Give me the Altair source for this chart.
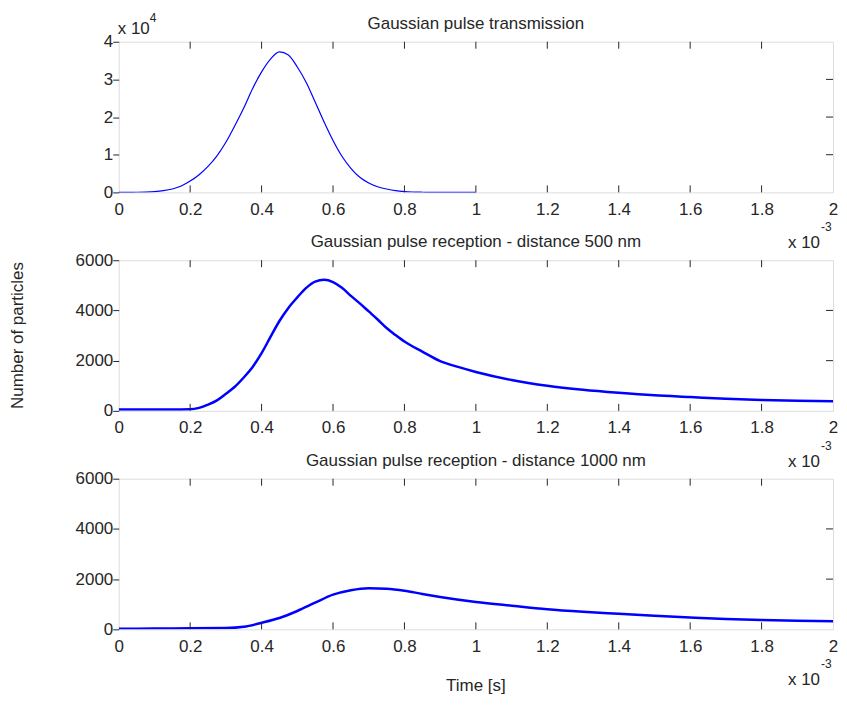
import altair as alt
import pandas as pd

# ---------------- data (time in ms, converted to seconds below) ----------------
tx_time_ms = [0.0, 0.025, 0.05, 0.075, 0.1, 0.125, 0.15, 0.175, 0.2, 0.225, 0.25, 0.275,
              0.3, 0.325, 0.35, 0.375, 0.4, 0.425, 0.45, 0.475, 0.5, 0.525, 0.55, 0.575,
              0.6, 0.625, 0.65, 0.675, 0.7, 0.725, 0.75, 0.775, 0.8, 0.825, 0.85, 0.875,
              0.9, 0.925, 0.95, 0.975, 1.0]
tx_particles = [0, 10, 30, 80, 200, 450, 900, 1700, 3000, 4700, 6900, 9700,
                13300, 17700, 22400, 27600, 32000, 35400, 37300, 36500, 33300, 29200, 24000, 18700,
                13800, 9600, 6400, 4000, 2500, 1500, 900, 450, 200, 90, 40, 15,
                5, 0, 0, 0, 0]

rx500_time_ms = [0.0, 0.05, 0.1, 0.15, 0.2, 0.225, 0.25, 0.275, 0.3, 0.325, 0.35, 0.375,
                 0.4, 0.425, 0.45, 0.475, 0.5, 0.525, 0.55, 0.575, 0.6, 0.625, 0.65, 0.675,
                 0.7, 0.725, 0.75, 0.775, 0.8, 0.85, 0.9, 0.95, 1.0, 1.1, 1.2, 1.3,
                 1.4, 1.5, 1.6, 1.7, 1.8, 1.9, 2.0]
rx500_particles = [50, 50, 50, 50, 60, 120, 250, 420, 680, 960, 1330, 1750,
                   2300, 2950, 3580, 4100, 4520, 4900, 5150, 5220, 5130, 4900, 4580, 4280,
                   3960, 3640, 3300, 3020, 2760, 2360, 1980, 1750, 1550, 1230, 1000, 840,
                   720, 620, 550, 480, 430, 400, 380]

rx1000_time_ms = [0.0, 0.1, 0.2, 0.3, 0.35, 0.4, 0.45, 0.5, 0.55, 0.6, 0.65, 0.7,
                  0.75, 0.8, 0.85, 0.9, 1.0, 1.1, 1.2, 1.3, 1.4, 1.5, 1.6, 1.7,
                  1.8, 1.9, 2.0]
rx1000_particles = [20, 30, 40, 50, 100, 260, 450, 730, 1060, 1380, 1560, 1640,
                    1620, 1540, 1410, 1290, 1090, 940, 800, 700, 620, 540, 470, 410,
                    370, 340, 320]

x_ticks_ms = [0, 0.2, 0.4, 0.6, 0.8, 1.0, 1.2, 1.4, 1.6, 1.8, 2.0]
y_ticks_tx = [0, 10000, 20000, 30000, 40000]
y_ticks_rx = [0, 2000, 4000, 6000]

titles = ["Gaussian pulse transmission",
          "Gaussian pulse reception - distance 500 nm",
          "Gaussian pulse reception - distance 1000 nm"]

# ---------------- styling ----------------
W, H = 716, 151
FONT = "Liberation Sans"
TXT = "#262626"
BLUE = "#0000ff"
FS = 17
TICK = 7

x_ticks = [v * 1e-3 for v in x_ticks_ms]
inner_x_ticks = x_ticks[1:-1]


def mk_df(tms, vals):
    return pd.DataFrame({"t": [v * 1e-3 for v in tms], "v": vals})


def text_layer(txt, x, y, size=FS, align="center", baseline="alphabetic", angle=0):
    props = dict(font=FONT, fontSize=size, color=TXT, align=align, baseline=baseline)
    if angle:
        props["angle"] = angle
    return alt.Chart(pd.DataFrame({"a": [0]})).mark_text(**props).encode(
        x=alt.value(x), y=alt.value(y), text=alt.value(txt))


def panel(df, ymax, yticks, title, ylabel_expr, stroke_w, extras):
    xenc = alt.X("t:Q", scale=alt.Scale(domain=[0, 0.002], nice=False, zero=False),
                 axis=alt.Axis(values=x_ticks, labelExpr="round(datum.value*10000)/10",
                               ticks=False, domain=False, grid=False, labelPadding=9,
                               title=None, labelFontSize=FS, labelFont=FONT,
                               labelColor=TXT, labelFlush=False, labelOverlap=False))
    yaxis = dict(values=yticks, tickSize=6, tickColor=TXT, domain=False, grid=False,
                 labelPadding=0, title=None, labelFontSize=FS, labelFont=FONT,
                 labelColor=TXT, labelOverlap=False, labelFlush=False)
    if ylabel_expr:
        yaxis["labelExpr"] = ylabel_expr
    else:
        yaxis["format"] = "d"
    yenc = alt.Y("v:Q", scale=alt.Scale(domain=[0, ymax], nice=False),
                 axis=alt.Axis(**yaxis))

    line = alt.Chart(df).mark_line(color=BLUE, strokeWidth=stroke_w, clip=True,
                                   interpolate="monotone").encode(x=xenc, y=yenc)

    xt = pd.DataFrame({"t": inner_x_ticks})
    top_ticks = alt.Chart(xt).mark_rule(color=TXT, strokeWidth=1).encode(
        x=xenc, y=alt.value(0), y2=alt.value(TICK))
    bot_ticks = alt.Chart(xt).mark_rule(color=TXT, strokeWidth=1).encode(
        x=xenc, y=alt.value(H), y2=alt.value(H - TICK))
    yt = pd.DataFrame({"v": yticks[1:-1]})
    right_ticks = alt.Chart(yt).mark_rule(color=TXT, strokeWidth=1).encode(
        y=yenc, x=alt.value(W), x2=alt.value(W - TICK))

    ttl = text_layer(title, W / 2, -13, size=FS)
    exp_base = text_layer("x 10", W - 13, H + 56, size=FS, align="right")
    exp_sup = text_layer("-3", W - 12, H + 39, size=12, align="left")

    layers = [line, top_ticks, bot_ticks, right_ticks, ttl, exp_base, exp_sup] + extras
    return alt.layer(*layers).properties(width=W, height=H)


p1 = panel(mk_df(tx_time_ms, tx_particles), 40000, y_ticks_tx, titles[0],
           "datum.value/10000", 1.2,
           [text_layer("x 10", -1, -8, size=FS, align="left"),
            text_layer("4", 31, -20, size=12, align="left")])
p2 = panel(mk_df(rx500_time_ms, rx500_particles), 6000, y_ticks_rx, titles[1],
           None, 2.5,
           [text_layer("Number of particles", -100.5, H / 2, size=FS, align="center",
                       baseline="middle", angle=270)])
p3 = panel(mk_df(rx1000_time_ms, rx1000_particles), 6000, y_ticks_rx, titles[2],
           None, 2.5,
           [text_layer("Time [s]", W / 2, H + 57, size=FS, align="center",
                       baseline="middle")])

chart = alt.vconcat(p1, p2, p3, spacing=68, bounds="flush").properties(
    padding={"left": 1, "top": 2, "right": 0, "bottom": 0}
).configure_view(stroke=TXT, strokeWidth=1).configure(background="white")

chart.save("out.html", embed_options={"renderer": "svg", "actions": False})
